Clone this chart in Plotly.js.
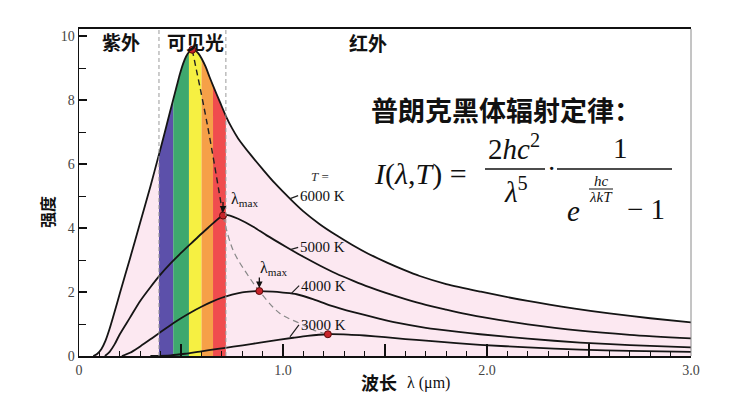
<!DOCTYPE html>
<html>
<head>
<meta charset="utf-8">
<script src="https://cdn.plot.ly/plotly-3.0.1.min.js"></script>
<style>html,body{margin:0;padding:0;background:#fff;}#chart{width:735px;height:401px;}</style>
</head>
<body>
<div id="chart"></div>
<script>
// ---- data (wavelength in μm, intensity arbitrary) ----
const lam6000 = [0.07,0.09,0.11,0.13,0.15,0.17,0.20,0.25,0.30,0.35,0.392,0.42,0.445,0.462,0.48,0.495,0.51,0.525,0.539,0.555,0.57,0.585,0.601,0.62,0.64,0.657,0.69,0.72,0.75,0.78,0.84,0.90,0.96,1.04,1.10,1.18,1.26,1.34,1.42,1.51,1.59,1.67,1.80,1.97,2.20,2.43,2.60,2.80,3.00];
const int6000 = [0,0.07,0.22,0.48,0.85,1.28,1.95,3.05,4.17,5.3,6.3,6.98,7.6,8.02,8.46,8.82,9.13,9.36,9.5,9.57,9.55,9.46,9.3,9.05,8.72,8.45,7.95,7.5,7.12,6.8,6.3,5.84,5.4,4.88,4.52,4.12,3.78,3.47,3.19,2.92,2.7,2.5,2.25,2.01,1.72,1.48,1.33,1.18,1.05];

const lam5000 = [0.127,0.15,0.175,0.20,0.25,0.30,0.35,0.40,0.45,0.50,0.55,0.60,0.64,0.67,0.69,0.706,0.72,0.74,0.78,0.854,0.92,1.018,1.1,1.18,1.26,1.345,1.42,1.5,1.6,1.7,1.8,1.9,2.0,2.2,2.456,2.7,3.0];
const int5000 = [0,0.13,0.37,0.68,1.2,1.72,2.15,2.55,2.9,3.22,3.52,3.82,4.05,4.22,4.33,4.39,4.41,4.39,4.29,4.04,3.77,3.4,3.1,2.83,2.58,2.35,2.16,1.98,1.78,1.6,1.45,1.31,1.19,0.99,0.79,0.66,0.55];

const lam4000 = [0.21,0.25,0.30,0.35,0.40,0.45,0.50,0.55,0.60,0.65,0.70,0.75,0.80,0.85,0.884,0.95,1.0,1.067,1.15,1.23,1.35,1.475,1.557,1.7,1.85,1.966,2.2,2.456,2.7,3.0];
const int4000 = [0,0.1,0.3,0.52,0.75,0.97,1.18,1.37,1.54,1.69,1.82,1.92,1.99,2.02,2.03,2.01,1.98,1.93,1.77,1.58,1.36,1.16,1.04,0.88,0.76,0.68,0.54,0.42,0.34,0.27];

const lam3000 = [0.35,0.45,0.52,0.593,0.68,0.756,0.85,0.92,1.05,1.12,1.22,1.32,1.4,1.5,1.6,1.7,1.85,1.966,2.2,2.456,2.7,3.0];
const int3000 = [0,0.02,0.07,0.14,0.22,0.29,0.38,0.45,0.57,0.63,0.68,0.67,0.64,0.59,0.53,0.48,0.4,0.35,0.27,0.2,0.16,0.13];

// peaks (λmax)
const lamMax = [0.555,0.706,0.884,1.22];
const intMax = [9.57,4.39,2.03,0.68];

// Wien displacement dashed path
const wienLamUpper = [0.555,0.63,0.706];
const wienIntUpper = [9.57,7.2,4.39];
const wienLamLower = [0.706,0.755,0.822,0.884,0.985,1.083,1.15,1.22];
const wienIntLower = [4.39,3.31,2.58,2.03,1.33,1.02,0.81,0.68];

// visible spectrum bands (edges in μm)
const bandEdges = [0.392,0.462,0.539,0.601,0.657,0.72];
const bandColors = ['rgb(92,80,170)','rgb(62,168,110)','rgb(246,240,66)','rgb(246,160,72)','rgb(240,76,78)'];

const tempLabels = ['6000 K','5000 K','4000 K','3000 K'];
const xTickVals = [0,0.5,1,1.5,2,2.5,3];
const xTickText = ['0','','1.0','','2.0','','3.0'];
const yTickVals = [0,2,4,6,8,10];

// ---- traces ----
const traces = [];
traces.push({x:lam6000,y:int6000,mode:'lines',fill:'tozeroy',fillcolor:'rgb(252,232,241)',line:{width:0,color:'rgba(0,0,0,0)',shape:'spline',smoothing:0.8},hoverinfo:'skip',showlegend:false});
for (let b=0;b<bandColors.length;b++){
  const xs=[],ys=[];
  for (let i=0;i<lam6000.length;i++){
    if (lam6000[i]>=bandEdges[b]-1e-9 && lam6000[i]<=bandEdges[b+1]+1e-9){xs.push(lam6000[i]);ys.push(int6000[i]);}
  }
  traces.push({x:xs,y:ys,mode:'lines',fill:'tozeroy',fillcolor:bandColors[b],line:{width:0,color:'rgba(0,0,0,0)'},hoverinfo:'skip',showlegend:false});
}
const curveLine = {color:'#151515',width:1.8,shape:'spline',smoothing:0.8};
[[lam6000,int6000],[lam5000,int5000],[lam4000,int4000],[lam3000,int3000]].forEach(c=>{
  traces.push({x:c[0],y:c[1],mode:'lines',line:curveLine,showlegend:false,hoverinfo:'skip'});
});
traces.push({x:wienLamUpper,y:wienIntUpper,mode:'lines',line:{color:'#222',width:1.4,dash:'6px,4px',shape:'spline'},showlegend:false,hoverinfo:'skip'});
traces.push({x:wienLamLower,y:wienIntLower,mode:'lines',line:{color:'#888',width:1.2,dash:'6px,4px',shape:'spline'},showlegend:false,hoverinfo:'skip'});
traces.push({x:lamMax,y:intMax,mode:'markers',marker:{color:'#c8232a',size:7,line:{color:'#5a0a0a',width:1}},showlegend:false,hoverinfo:'skip'});

// ---- annotations ----
const cjk = '"Noto Sans CJK SC", "Noto Sans", sans-serif';
const serif = '"Liberation Serif", "DejaVu Serif", serif';
const P = (px,py)=>({x:(px-79)/612, y:(356-py)/327});
const ann = [];
function paperText(px,py,text,size,family,opts){
  const p=P(px,py);
  ann.push(Object.assign({xref:'paper',yref:'paper',x:p.x,y:p.y,text:text,showarrow:false,font:{size:size,family:family,color:'#111'},xanchor:'center',yanchor:'middle'},opts||{}));
}
paperText(121,41,'<b>紫外</b>',19,cjk);
paperText(195,41,'<b>可见光</b>',19,cjk);
paperText(368,42,'<b>红外</b>',19,cjk);
paperText(506,110,'<b>普朗克黑体辐射定律：</b>',27,cjk);
// formula
paperText(420,174,'<i>I</i>(<i>λ</i>,<i>T</i>) =',30,serif);
paperText(514,147,'2<i>hc</i><sup>2</sup>',29,serif);
paperText(516,190,'<i>λ</i><sup>5</sup>',29,serif);
paperText(551,168,'·',28,serif);
paperText(620,148,'1',29,serif);
paperText(573,211,'<i>e</i>',29,serif);
paperText(601,181,'<i>hc</i>',15,serif);
paperText(601,197,'<i>λkT</i>',15,serif);
paperText(646,209,'− 1',29,serif);
// curve labels
paperText(320,176,'<i>T</i> =',13,serif,{font:{size:13,family:serif,color:'#333'}});
const labelAnchors = [[1.035,4.92,8,-3],[1.04,3.33,7,-2],[1.04,1.95,8,-8],[1.034,0.6,9,-12]];
labelAnchors.forEach((a,i)=>{
  ann.push({xref:'x',yref:'y',x:a[0],y:a[1],ax:a[2],ay:a[3],text:tempLabels[i],showarrow:true,arrowhead:0,arrowwidth:1.2,arrowcolor:'#222',xanchor:'left',yanchor:'middle',font:{size:15,family:serif,color:'#111'},standoff:0});
});
// λmax arrows & labels
[[lamMax[1],intMax[1]],[lamMax[2],intMax[2]]].forEach(p=>{
  ann.push({xref:'x',yref:'y',x:p[0],y:p[1],ax:0,ay:-15,text:'',showarrow:true,arrowhead:2,arrowsize:1,arrowwidth:1.3,arrowcolor:'#111',standoff:3});
});
paperText(244,199,'λ<sub>max</sub>',16,serif);
paperText(273,268,'λ<sub>max</sub>',16,serif);
// axis titles
paperText(47,212,'<b>强度</b>',16,cjk,{textangle:-90});
paperText(379,382,'<b>波长</b>',18,cjk);
paperText(428,383,'λ (μm)',16,serif);

// ---- shapes ----
const shapes = [
  {type:'line',xref:'x',yref:'paper',x0:bandEdges[0],x1:bandEdges[0],y0:0,y1:1,line:{color:'#9a9a9a',width:1,dash:'4px,3px'}},
  {type:'line',xref:'x',yref:'paper',x0:bandEdges[5],x1:bandEdges[5],y0:0,y1:1,line:{color:'#9a9a9a',width:1,dash:'4px,3px'}},
  {type:'line',xref:'paper',yref:'paper',x0:1,x1:1,y0:0,y1:1,line:{color:'#8a8a8a',width:1}},
  // fraction bars
  {type:'line',xref:'paper',yref:'paper',x0:P(485,0).x,x1:P(545,0).x,y0:P(0,169).y,y1:P(0,169).y,line:{color:'#111',width:1.6}},
  {type:'line',xref:'paper',yref:'paper',x0:P(557,0).x,x1:P(672,0).x,y0:P(0,169).y,y1:P(0,169).y,line:{color:'#111',width:1.6}},
  {type:'line',xref:'paper',yref:'paper',x0:P(589,0).x,x1:P(613,0).x,y0:P(0,189).y,y1:P(0,189).y,line:{color:'#111',width:1}}
];

const layout = {
  width:735,height:401,
  margin:{l:79,r:44,t:29,b:45,pad:0},
  paper_bgcolor:'#fff',plot_bgcolor:'#fff',
  showlegend:false,
  xaxis:{range:[0,3],tickmode:'array',tickvals:xTickVals,ticktext:xTickText,ticks:'inside',ticklen:12,tickwidth:1.3,tickcolor:'#111',
    minor:{tickmode:'linear',tick0:0,dtick:0.1,ticks:'inside',ticklen:5,tickwidth:1,tickcolor:'#111'},
    showline:true,linecolor:'#111',linewidth:2,mirror:true,showgrid:false,zeroline:false,
    tickfont:{family:serif,size:14,color:'#444'}},
  yaxis:{range:[0,10.22],tickmode:'array',tickvals:yTickVals,ticks:'inside',ticklen:8,tickwidth:1.3,tickcolor:'#111',
    minor:{tickmode:'linear',tick0:0,dtick:1,ticks:'inside',ticklen:7,tickwidth:1,tickcolor:'#111'},
    showline:true,linecolor:'#111',linewidth:1.5,showgrid:false,zeroline:false,
    tickfont:{family:serif,size:14,color:'#444'}},
  annotations:ann,
  shapes:shapes
};
Plotly.newPlot('chart',traces,layout,{staticPlot:true,displayModeBar:false});
</script>
</body>
</html>
